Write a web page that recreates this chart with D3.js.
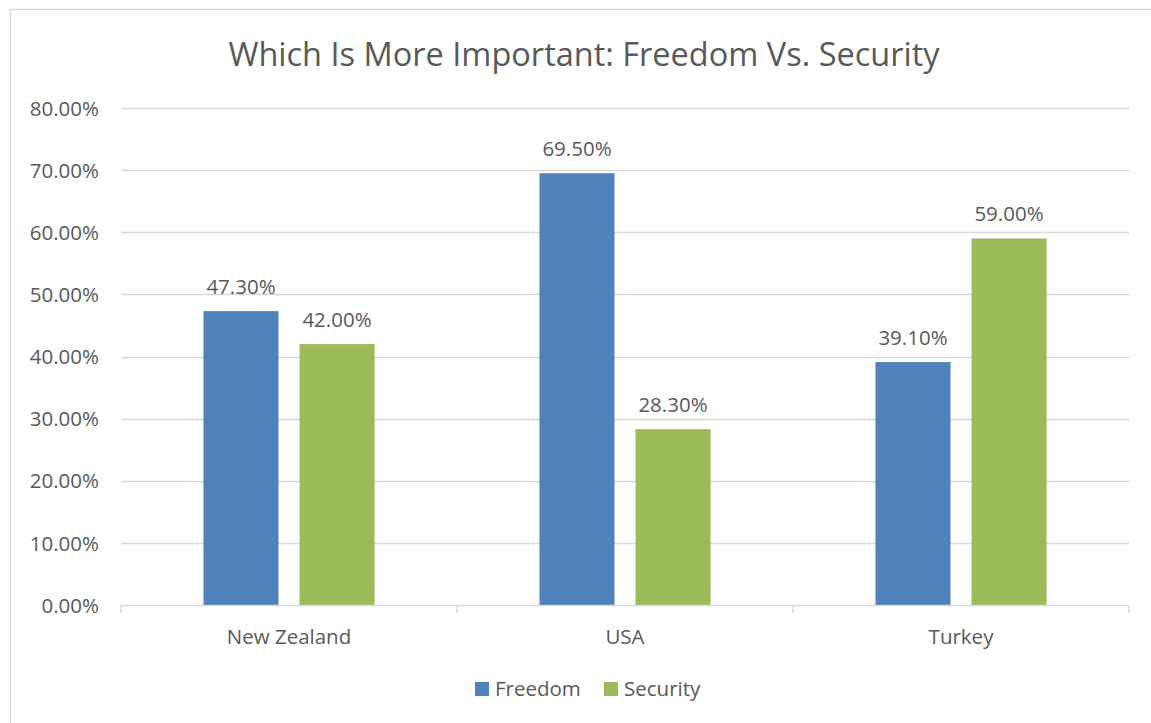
<!DOCTYPE html>
<html>
<head>
<meta charset="utf-8">
<script src="https://cdn.jsdelivr.net/npm/d3@7"></script>
<style>
  html, body { margin: 0; padding: 0; background: #fff; }
  svg { display: block; }
  text { font-family: "Open Sans", "Noto Sans", sans-serif; fill: #595959; }
</style>
</head>
<body>
<svg id="chart" width="1151" height="723"></svg>
<script>
const categories = ["New Zealand", "USA", "Turkey"];
const seriesNames = ["Freedom", "Security"];
const freedom = [0.473, 0.695, 0.391];
const security = [0.420, 0.283, 0.590];
const yTicks = [0, 0.1, 0.2, 0.3, 0.4, 0.5, 0.6, 0.7, 0.8];
const colors = ["#4f81bd", "#9bbb59"];

const svg = d3.select("#chart");
const W = 1151, H = 723;
const plot = { left: 121, right: 1129, top: 108, bottom: 605 };
const small = "20.5px";

// outer chart frame
svg.append("rect")
  .attr("x", 10.5).attr("y", 9.5)
  .attr("width", W + 20).attr("height", H + 20)
  .attr("fill", "#fff").attr("stroke", "#d9d9d9").attr("stroke-width", 1.5);

const x0 = d3.scaleBand().domain(categories).range([plot.left, plot.right]).paddingInner(0).paddingOuter(0);
const bw = x0.bandwidth();
const x1 = d3.scaleBand().domain(seriesNames)
  .range([bw * 0.2455, bw * 0.7545]).paddingInner(0.21875).paddingOuter(0);
const y = d3.scaleLinear().domain([0, 0.8]).range([plot.bottom, plot.top]);

// title
svg.append("text")
  .attr("x", 584).attr("y", 66)
  .attr("text-anchor", "middle")
  .style("font-size", "32.5px")
  .text("Which Is More Important: Freedom Vs. Security");

// gridlines
svg.append("g").selectAll("line")
  .data(yTicks.filter(d => d > 0))
  .join("line")
  .attr("x1", plot.left).attr("x2", plot.right)
  .attr("y1", d => Math.round(y(d)) + 0.5).attr("y2", d => Math.round(y(d)) + 0.5)
  .attr("stroke", "#d9d9d9").attr("stroke-width", 1.3);

// y axis labels
const yAxis = d3.axisLeft(y).tickValues(yTicks).tickSize(0).tickPadding(0)
  .tickFormat(d => (d * 100).toFixed(2) + "%");
const gy = svg.append("g").attr("transform", `translate(${plot.left - 22},0)`).call(yAxis);
gy.select(".domain").remove();
gy.selectAll("text").style("font-size", small).attr("fill", "#595959").attr("dy", "0.35em").style("font-family", "\"Open Sans\", sans-serif");

// x axis
const xAxis = d3.axisBottom(x0).tickSize(0).tickPadding(0);
const gx = svg.append("g").attr("transform", `translate(0,${plot.bottom})`).call(xAxis);
gx.select(".domain").remove();
gx.selectAll("text").style("font-size", small).attr("fill", "#595959").attr("y", 39).attr("dy", 0).style("font-family", "\"Open Sans\", sans-serif");

// bars
const rows = categories.map((c, i) => ({ cat: c, vals: [freedom[i], security[i]] }));
const groups = svg.append("g").selectAll("g")
  .data(rows).join("g")
  .attr("transform", d => `translate(${x0(d.cat)},0)`);

groups.selectAll("rect")
  .data(d => d.vals.map((v, j) => ({ name: seriesNames[j], v, j })))
  .join("rect")
  .attr("x", d => x1(d.name))
  .attr("width", x1.bandwidth())
  .attr("y", d => y(d.v))
  .attr("height", d => y(0) - y(d.v))
  .attr("fill", d => colors[d.j]);

groups.selectAll("text.val")
  .data(d => d.vals.map((v, j) => ({ name: seriesNames[j], v, j })))
  .join("text")
  .attr("class", "val")
  .attr("x", d => x1(d.name) + x1.bandwidth() / 2)
  .attr("y", d => y(d.v) - 17)
  .attr("text-anchor", "middle")
  .style("font-size", small)
  .text(d => (d.v * 100).toFixed(2) + "%");

// x axis line and tick marks
svg.append("line")
  .attr("x1", plot.left).attr("x2", plot.right)
  .attr("y1", plot.bottom + 0.5).attr("y2", plot.bottom + 0.5)
  .attr("stroke", "#d9d9d9").attr("stroke-width", 1.5);
const boundaries = categories.map(c => x0(c)).concat([plot.right]);
svg.append("g").selectAll("line")
  .data(boundaries).join("line")
  .attr("x1", d => d).attr("x2", d => d)
  .attr("y1", plot.bottom).attr("y2", plot.bottom + 8)
  .attr("stroke", "#d9d9d9").attr("stroke-width", 1.5);

// legend
const legendItems = [{ name: "Freedom", x: 475 }, { name: "Security", x: 604 }];
const lg = svg.append("g");
legendItems.forEach((d, i) => {
  lg.append("rect").attr("x", d.x).attr("y", 682).attr("width", 14).attr("height", 14).attr("fill", colors[i]);
  lg.append("text").attr("x", d.x + 20).attr("y", 696).style("font-size", small).text(d.name);
});
</script>
</body>
</html>
